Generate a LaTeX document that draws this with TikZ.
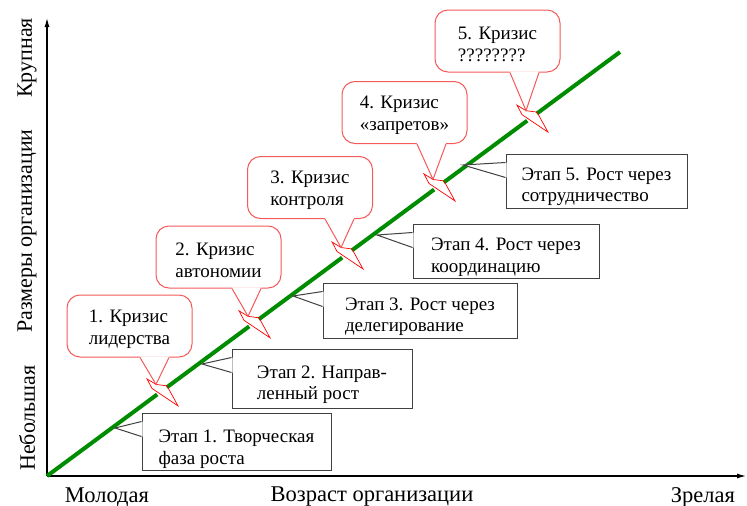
\documentclass[tikz,border=0pt]{standalone}
\usepackage{fontspec}
\setmainfont{Liberation Serif}
\newfontfamily\tnr{Liberation Serif}
\usetikzlibrary{calc,arrows.meta}
\definecolor{grn}{RGB}{0,140,0}
\definecolor{crisisred}{RGB}{245,90,90}
\begin{document}
\begin{tikzpicture}[x=1pt,y=-1pt,
  axis/.style={line width=1.1pt,black,-{Latex[length=9pt,width=5pt]}},
  growth/.style={line width=4pt,grn},
  bolt/.style={red,line width=0.7pt,line join=miter},
  tail/.style={crisisred,line width=1pt},
  crisis/.style={draw=crisisred,line width=1pt,fill=white,rounded corners=13pt,
    minimum width=125pt,minimum height=62pt,inner sep=0pt},
  crisistext/.style={align=left,inner sep=0pt,font=\tnr\fontsize{19}{22}\selectfont},
  stagebox/.style={draw=black!75,line width=1pt,fill=white,inner sep=0pt},
  wedge/.style={black!75,line width=1pt},
  stagetext/.style={align=left,inner sep=0pt,font=\tnr\fontsize{19}{21.5}\selectfont},
  lbl/.style={inner sep=0pt,font=\tnr\fontsize{22.5}{26}\selectfont},
  vlbl/.style={inner sep=0pt,rotate=90,font=\tnr\fontsize{22}{26}\selectfont}
]
\useasboundingbox (0,0) rectangle (747,506);

% axes
\coordinate (O) at (47,476);
\coordinate (E) at (620,52);
\coordinate (ytop) at (47,18);
\coordinate (xend) at (746,476);
\draw[axis] (O) -- (ytop);
\draw[axis] (O) -- (xend);

% axis labels
\node[lbl] (young) at (107,497) {Молодая};
\node[lbl] (age) at (372,497) {Возраст организации};
\node[lbl] (mature) at (703,497) {Зрелая};
\node[vlbl] (small) at (27,418) {Небольшая};
\node[vlbl] (size) at (27,231) {Размеры организации};
\node[vlbl] (large) at (27,58) {Крупная};

% crisis points on the growth line
\coordinate (g1) at ($(O)!0.2007!(E)$);
\coordinate (g2) at ($(O)!0.3613!(E)$);
\coordinate (g3) at ($(O)!0.5236!(E)$);
\coordinate (g4) at ($(O)!0.6841!(E)$);
\coordinate (g5) at ($(O)!0.8464!(E)$);

% growth line segments
\draw[growth] (O) -- ($(g1)!6pt!(O)$);
\draw[growth] ($(g1)!6pt!(E)$) -- ($(g2)!6pt!(O)$);
\draw[growth] ($(g2)!6pt!(E)$) -- ($(g3)!6pt!(O)$);
\draw[growth] ($(g3)!6pt!(E)$) -- ($(g4)!6pt!(O)$);
\draw[growth] ($(g4)!6pt!(E)$) -- ($(g5)!6pt!(O)$);
\draw[growth] ($(g5)!6pt!(E)$) -- (E);

% lightning bolts
\foreach \i in {1,...,5} {
  \coordinate (t\i) at ($(g\i)+(-6,-6.5)$);
  \draw[bolt] ($(g\i)+(-15,-12)$) -- (t\i) -- ($(g\i)+(5,-5)$)
     -- ($(g\i)+(16,15)$) -- ($(g\i)+(-10,-2.5)$) -- cycle;
}

% stage boxes
\node[stagebox,minimum width=189pt,minimum height=57pt] (s1) at (236.5,441.5) {};
\node[stagebox,minimum width=180pt,minimum height=59pt] (s2) at (322,378.5) {};
\node[stagebox,minimum width=194pt,minimum height=55pt] (s3) at (420,310.5) {};
\node[stagebox,minimum width=186pt,minimum height=54pt] (s4) at (506,251) {};
\node[stagebox,minimum width=181pt,minimum height=54pt] (s5) at (596.5,181) {};

\coordinate (p1) at (115,428);
\coordinate (p2) at (202,364);
\coordinate (p3) at (293,296);
\coordinate (p4) at (377,235);
\coordinate (p5) at (463,165);

\foreach \i in {1,...,5} {
  \fill[white] ($(s\i.north west)+(1.2,9)$) -- ($(s\i.north west)+(0,9)$) -- (p\i)
     -- ($(s\i.north west)+(0,24)$) -- ($(s\i.north west)+(1.2,24)$) -- cycle;
  \draw[wedge,line join=miter] ($(s\i.north west)+(0,9)$) -- (p\i) -- ($(s\i.north west)+(0,24)$);
}

\node[stagetext] (s1t) at ($(s1.center)+(0,7.5)$) {Этап 1. Творческая\\фаза роста};
\node[stagetext] (s2t) at ($(s2.center)+(0,6)$) {Этап 2. Направ-\\ленный рост};
\node[stagetext] (s3t) at ($(s3.center)+(0,6)$) {Этап 3. Рост через\\делегирование};
\node[stagetext] (s4t) at ($(s4.center)+(0,6)$) {Этап 4. Рост через\\координацию};
\node[stagetext] (s5t) at ($(s5.center)+(0,6)$) {Этап 5. Рост через\\сотрудничество};

% crisis callouts
\node[crisis] (c1) at (129.5,326) {};
\node[crisis] (c2) at (218.5,257) {};
\node[crisis] (c3) at (310,187.5) {};
\node[crisis] (c4) at (404.5,112.5) {};
\node[crisis] (c5) at (497.5,41) {};

\foreach \i in {1,...,5} {
  \fill[white] ($(t\i |- c\i.south)+(-16,-1.2)$) -- ($(t\i |- c\i.south)+(-16,0)$) -- (t\i)
     -- ($(t\i |- c\i.south)+(13,0)$) -- ($(t\i |- c\i.south)+(13,-1.2)$) -- cycle;
  \draw[tail,line join=miter] ($(t\i |- c\i.south)+(-16,0)$) -- (t\i) -- ($(t\i |- c\i.south)+(13,0)$);
}

\node[crisistext] (c1t) at ($(c1.center)+(0,3)$) {1. Кризис\\лидерства};
\node[crisistext] (c2t) at ($(c2.center)+(0,3)$) {2. Кризис\\автономии};
\node[crisistext] (c3t) at ($(c3.center)+(0,3)$) {3. Кризис\\контроля};
\node[crisistext] (c4t) at ($(c4.center)+(0,3)$) {4. Кризис\\«запретов»};
\node[crisistext] (c5t) at ($(c5.center)+(0,3)$) {5. Кризис\\????????};
\end{tikzpicture}
\end{document}
